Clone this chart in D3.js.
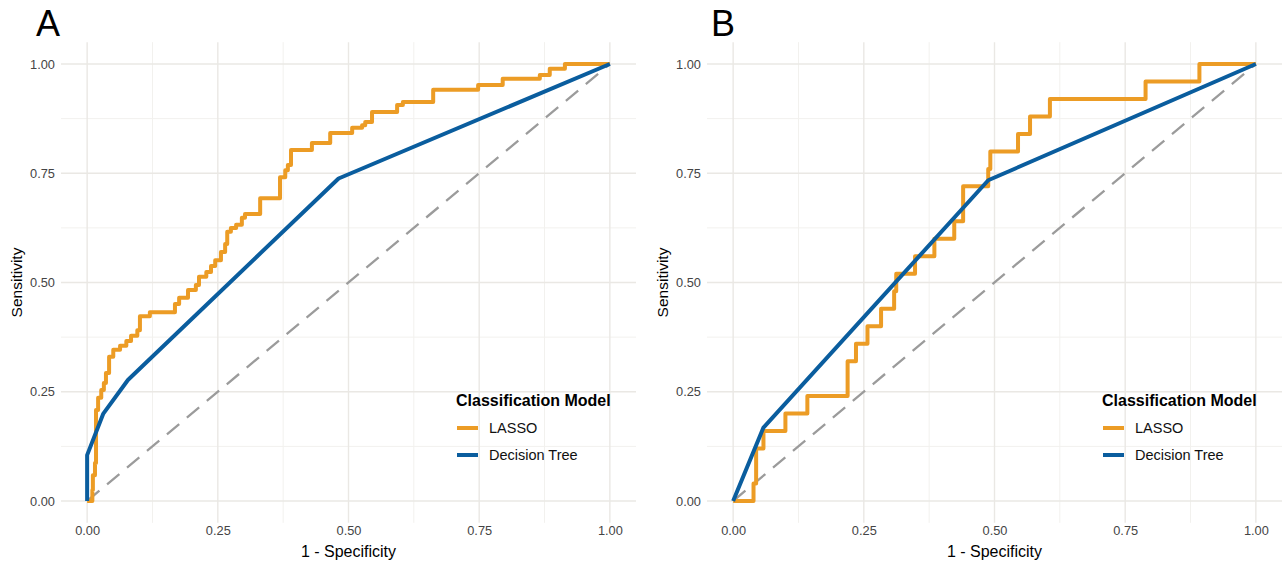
<!DOCTYPE html>
<html>
<head>
<meta charset="utf-8">
<script src="https://cdn.jsdelivr.net/npm/d3@7"></script>
<style>
  body { margin: 0; background: #fff; }
  svg { display: block; font-family: "Liberation Sans", Arial, sans-serif; }
</style>
</head>
<body>
<svg id="chart" width="1282" height="564"></svg>
<script>
const tickValues = [0, 0.25, 0.5, 0.75, 1];
const minorTicks = [0.125, 0.375, 0.625, 0.875];
const panelLetters = ['A', 'B'];
const modelNames = ['LASSO', 'Decision Tree'];
const modelColors = ['#EC9C25', '#0A5D9E'];

// panel A, LASSO: step points (fpr, tpr), drawn as step-after
const lassoA_fpr = [0, 0.010, 0.011, 0.015, 0.017, 0.021, 0.027, 0.032, 0.036, 0.042, 0.050, 0.063,
  0.075, 0.084, 0.096, 0.101, 0.120, 0.168, 0.176, 0.193, 0.208, 0.214, 0.228, 0.237, 0.245,
  0.256, 0.264, 0.268, 0.275, 0.285, 0.296, 0.302, 0.331, 0.369, 0.379, 0.384, 0.390, 0.430,
  0.465, 0.507, 0.526, 0.532, 0.545, 0.593, 0.604, 0.662, 0.748, 0.795, 0.866, 0.885, 0.914, 1];
const lassoA_tpr = [0, 0.025, 0.059, 0.087, 0.208, 0.236, 0.254, 0.270, 0.293, 0.330, 0.346, 0.355,
  0.366, 0.378, 0.391, 0.423, 0.432, 0.451, 0.465, 0.483, 0.494, 0.513, 0.524, 0.538, 0.551,
  0.570, 0.588, 0.616, 0.625, 0.632, 0.648, 0.657, 0.693, 0.741, 0.757, 0.769, 0.803, 0.819,
  0.842, 0.854, 0.860, 0.867, 0.890, 0.906, 0.913, 0.941, 0.952, 0.966, 0.975, 0.989, 1.0, 1.0];

// panel A, decision tree
const treeA_fpr = [0, 0, 0.031, 0.078, 0.481, 1];
const treeA_tpr = [0, 0.105, 0.20, 0.277, 0.738, 1];

// panel B, LASSO
const lassoB_fpr = [0, 0.039, 0.044, 0.058, 0.100, 0.142, 0.219, 0.235, 0.257, 0.283, 0.308, 0.312,
  0.348, 0.385, 0.423, 0.440, 0.488, 0.492, 0.545, 0.568, 0.606, 0.789, 0.892, 1];
const lassoB_tpr = [0, 0.04, 0.12, 0.16, 0.20, 0.24, 0.32, 0.36, 0.40, 0.44, 0.48, 0.52,
  0.56, 0.60, 0.64, 0.72, 0.76, 0.80, 0.84, 0.88, 0.92, 0.96, 1.0, 1.0];

// panel B, decision tree
const treeB_fpr = [0, 0.058, 0.488, 1];
const treeB_tpr = [0, 0.168, 0.734, 1];

const svg = d3.select('#chart');

function zip(xs, ys) {
  return xs.map((x, i) => ({ x, y: ys[i] }));
}

function drawPanel(left, letterX, letter, lasso, tree) {
  const x = d3.scaleLinear().domain([-0.05, 1.05]).range([left - 26, left + 549]);
  const y = d3.scaleLinear().domain([-0.05, 1.05]).range([522.85, 42.15]);
  const g = svg.append('g');

  const grid = g.append('g').attr('fill', 'none');
  minorTicks.forEach(t => {
    grid.append('line').attr('x1', x(t)).attr('x2', x(t)).attr('y1', y(-0.05)).attr('y2', y(1.05))
      .attr('stroke', '#f2f1ee').attr('stroke-width', 1);
    grid.append('line').attr('y1', y(t)).attr('y2', y(t)).attr('x1', x(-0.05)).attr('x2', x(1.05))
      .attr('stroke', '#f2f1ee').attr('stroke-width', 1);
  });
  tickValues.forEach(t => {
    grid.append('line').attr('x1', x(t)).attr('x2', x(t)).attr('y1', y(-0.05)).attr('y2', y(1.05))
      .attr('stroke', '#eae8e4').attr('stroke-width', 1.4);
    grid.append('line').attr('y1', y(t)).attr('y2', y(t)).attr('x1', x(-0.05)).attr('x2', x(1.05))
      .attr('stroke', '#eae8e4').attr('stroke-width', 1.4);
  });

  const fmt = d3.format('.2f');
  const xAxis = g.append('g').attr('transform', `translate(0,${y(-0.05)})`)
    .call(d3.axisBottom(x).tickValues(tickValues).tickFormat(fmt).tickSize(0).tickPadding(3));
  const yAxis = g.append('g').attr('transform', `translate(${x(-0.05)},0)`)
    .call(d3.axisLeft(y).tickValues(tickValues).tickFormat(fmt).tickSize(0).tickPadding(6));
  [xAxis, yAxis].forEach(a => {
    a.select('.domain').remove();
    a.selectAll('text').attr('fill', '#444').style('font-size', '12.8px')
      .style('font-family', '"Liberation Sans", Arial, sans-serif');
  });

  g.append('text').attr('x', x(0.5)).attr('y', 557).attr('text-anchor', 'middle')
    .style('font-size', '16px').text('1 - Specificity');
  g.append('text').attr('transform', `translate(${left - 65},${y(0.5)}) rotate(-90)`)
    .attr('text-anchor', 'middle').style('font-size', '15.5px').text('Sensitivity');
  g.append('text').attr('x', letterX).attr('y', 36).style('font-size', '36px').text(letter);

  g.append('line').attr('x1', x(0)).attr('y1', y(0)).attr('x2', x(1)).attr('y2', y(1))
    .attr('stroke', '#9b9b9b').attr('stroke-width', 2.3).attr('stroke-dasharray', '16,10');

  const stepLine = d3.line().x(d => x(d.x)).y(d => y(d.y)).curve(d3.curveStepAfter);
  const straight = d3.line().x(d => x(d.x)).y(d => y(d.y));
  g.append('path').datum(lasso).attr('d', stepLine).attr('fill', 'none')
    .attr('stroke', modelColors[0]).attr('stroke-width', 4).attr('stroke-linejoin', 'round');
  g.append('path').datum(tree).attr('d', straight).attr('fill', 'none')
    .attr('stroke', modelColors[1]).attr('stroke-width', 4).attr('stroke-linejoin', 'round');

  const lx = x(1.05) - 180;
  const leg = g.append('g');
  leg.append('text').attr('x', lx).attr('y', 406).style('font-size', '16px')
    .style('font-weight', 'bold').text('Classification Model');
  modelNames.forEach((name, i) => {
    const ky = 428 + i * 27;
    leg.append('line').attr('x1', lx + 1).attr('x2', lx + 22).attr('y1', ky).attr('y2', ky)
      .attr('stroke', modelColors[i]).attr('stroke-width', 4);
    leg.append('text').attr('x', lx + 33).attr('y', ky + 5).style('font-size', '14.5px')
      .attr('fill', '#111').text(name);
  });
}

drawPanel(87, 36, panelLetters[0], zip(lassoA_fpr, lassoA_tpr), zip(treeA_fpr, treeA_tpr));
drawPanel(733, 711, panelLetters[1], zip(lassoB_fpr, lassoB_tpr), zip(treeB_fpr, treeB_tpr));
</script>
</body>
</html>
